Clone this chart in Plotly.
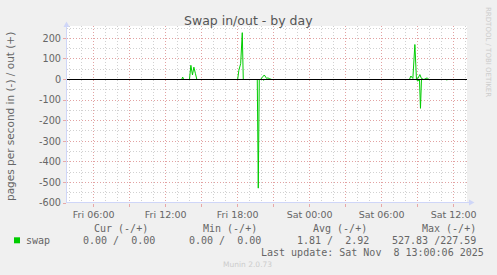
import plotly.graph_objects as go

# ---------------- data ----------------
out_time = [
    "2025-11-07 03:46", "2025-11-07 13:20", "2025-11-07 13:25", "2025-11-07 13:30",
    "2025-11-07 13:59", "2025-11-07 14:06", "2025-11-07 14:14", "2025-11-07 14:21",
    "2025-11-07 14:29", "2025-11-07 14:36",
    "2025-11-07 18:00", "2025-11-07 18:06", "2025-11-07 18:15", "2025-11-07 18:23",
    "2025-11-07 18:28",
    "2025-11-07 19:54", "2025-11-07 20:01", "2025-11-07 20:13", "2025-11-07 20:25",
    "2025-11-07 20:31", "2025-11-07 20:41", "2025-11-07 20:51",
    "2025-11-08 08:19", "2025-11-08 08:26", "2025-11-08 08:36", "2025-11-08 08:46",
    "2025-11-08 08:54", "2025-11-08 09:01", "2025-11-08 09:11", "2025-11-08 09:19",
    "2025-11-08 09:31", "2025-11-08 09:48", "2025-11-08 09:56", "2025-11-08 13:06",
]
out_vals = [
    0, 0, 12, 0,
    0, 69, 22, 60,
    28, 0,
    0, 45, 77, 227.59,
    0,
    0, 8, 22, 5,
    8, 3, 0,
    0, 17, 5, 170,
    0, 5, 24, 5,
    0, 8, 0, 0,
]

in_time = [
    "2025-11-07 03:46",
    "2025-11-07 08:34", "2025-11-07 08:39", "2025-11-07 08:44",
    "2025-11-07 09:06", "2025-11-07 09:11", "2025-11-07 09:16",
    "2025-11-07 09:46", "2025-11-07 09:51", "2025-11-07 09:56",
    "2025-11-07 15:21", "2025-11-07 15:26", "2025-11-07 15:31",
    "2025-11-07 19:38", "2025-11-07 19:43", "2025-11-07 19:48",
    "2025-11-07 20:05", "2025-11-07 20:10", "2025-11-07 20:15",
    "2025-11-07 20:30", "2025-11-07 20:35", "2025-11-07 20:40",
    "2025-11-07 21:11", "2025-11-07 21:16", "2025-11-07 21:21",
    "2025-11-07 21:36", "2025-11-07 21:41", "2025-11-07 21:46",
    "2025-11-08 07:36", "2025-11-08 07:41", "2025-11-08 07:46",
    "2025-11-08 08:55", "2025-11-08 09:00", "2025-11-08 09:05",
    "2025-11-08 09:09", "2025-11-08 09:14", "2025-11-08 09:19",
    "2025-11-08 11:21", "2025-11-08 11:26", "2025-11-08 11:31",
    "2025-11-08 11:49", "2025-11-08 11:54", "2025-11-08 11:59",
    "2025-11-08 13:06",
]
in_vals = [
    0,
    0, 3, 0,
    0, 3, 0,
    0, 2, 0,
    0, 2, 0,
    0, 527.83, 0,
    0, 3, 0,
    0, 2, 0,
    0, 2, 0,
    0, 2, 0,
    0, 2, 0,
    0, 8, 0,
    0, 140, 0,
    0, 2, 0,
    0, 2, 0,
    0,
]

x_tickvals = [
    "2025-11-07 06:00", "2025-11-07 09:00", "2025-11-07 12:00", "2025-11-07 15:00",
    "2025-11-07 18:00", "2025-11-07 21:00", "2025-11-08 00:00", "2025-11-08 03:00",
    "2025-11-08 06:00", "2025-11-08 09:00", "2025-11-08 12:00",
]
x_ticktext = ["Fri 06:00", "", "Fri 12:00", "", "Fri 18:00", "",
              "Sat 00:00", "", "Sat 06:00", "", "Sat 12:00"]
y_tickvals = [-600, -500, -400, -300, -200, -100, 0, 100, 200]
y_ticktext = ["-600", "-500", "-400", "-300", "-200", "-100", "0", "100", "200"]

series_name = "swap"
legend_headers = ["Cur (-/+)", "Min (-/+)", "Avg (-/+)", "Max (-/+)"]
legend_values = ["0.00 /  0.00", "0.00 /  0.00", "1.81 /  2.92", "527.83 /227.59"]
last_update = "Last update: Sat Nov  8 13:00:06 2025"
title_text = "Swap in/out - by day"
ytitle_text = "pages per second in (-) / out (+)"

# ---------------- layout helpers ----------------
W, H = 497, 275
L, R, T, B = 67, 467, 26, 203
GREEN = "#00CC00"
FONT_C = "#666666"
AXIS_C = "#CFD6F8"


def px(x):
    return (x - L) / (R - L)


def py(y):
    return (B - y) / (B - T)


def nb(s):
    return s.replace(" ", "\u00a0")


fig = go.Figure()
fig.add_trace(go.Scatter(x=out_time, y=out_vals, mode="lines",
                         line=dict(color=GREEN, width=1), hoverinfo="skip"))
fig.add_trace(go.Scatter(x=in_time, y=[-v for v in in_vals], mode="lines",
                         line=dict(color=GREEN, width=1), hoverinfo="skip"))

grid_major = "rgba(230,150,150,0.8)"
grid_minor = "rgba(190,190,190,0.7)"

fig.update_layout(
    width=W, height=H,
    margin=dict(l=L, r=W - R, t=T, b=H - B, pad=0),
    paper_bgcolor="#F0F0F0", plot_bgcolor="#FFFFFF",
    showlegend=False,
    xaxis=dict(
        type="date",
        range=["2025-11-07 03:46:40", "2025-11-08 13:06:40"],
        tickmode="array", tickvals=x_tickvals, ticktext=x_ticktext,
        showgrid=True, gridcolor=grid_major, gridwidth=1, griddash="1px,2px",
        minor=dict(tickmode="linear", tick0="2025-11-07 04:00", dtick=3600000,
                   showgrid=True, gridcolor=grid_minor, gridwidth=1, griddash="1px,2px"),
        ticks="outside", ticklen=3, tickcolor=grid_major,
        tickfont=dict(family="DejaVu Sans", size=9.5, color=FONT_C),
        zeroline=False, showline=False, fixedrange=True,
    ),
    yaxis=dict(
        range=[-600, 260],
        tickmode="array", tickvals=y_tickvals, ticktext=y_ticktext,
        showgrid=True, gridcolor=grid_major, gridwidth=1, griddash="1px,2px",
        minor=dict(tickmode="linear", tick0=0, dtick=50,
                   showgrid=True, gridcolor=grid_minor, gridwidth=1, griddash="1px,2px"),
        ticks="outside", ticklen=3, tickcolor=grid_major,
        tickfont=dict(family="DejaVu Sans", size=9.7, color=FONT_C),
        zeroline=False, showline=False, fixedrange=True,
    ),
)

shapes = []
# zero line (black) on top
shapes.append(dict(type="line", xref="paper", yref="y", x0=0, x1=1, y0=0, y1=0,
                   line=dict(color="#000000", width=1), layer="above"))
# axis lines + arrows
shapes.append(dict(type="line", xref="paper", yref="paper",
                   x0=px(66.5), x1=px(66.5), y0=py(B), y1=py(24),
                   line=dict(color=AXIS_C, width=1), layer="above"))
shapes.append(dict(type="line", xref="paper", yref="paper",
                   x0=px(L), x1=px(471), y0=py(B - 0.5), y1=py(B - 0.5),
                   line=dict(color=AXIS_C, width=1), layer="above"))
shapes.append(dict(type="path", xref="paper", yref="paper",
                   path=f"M {px(66.5)} {py(21.5)} L {px(63.5)} {py(27)} L {px(69.5)} {py(27)} Z",
                   fillcolor=AXIS_C, line=dict(width=0), layer="above"))
shapes.append(dict(type="path", xref="paper", yref="paper",
                   path=f"M {px(474.5)} {py(B - 0.5)} L {px(469)} {py(B - 3.5)} L {px(469)} {py(B + 2.5)} Z",
                   fillcolor=AXIS_C, line=dict(width=0), layer="above"))
# legend swatch
shapes.append(dict(type="rect", xref="paper", yref="paper",
                   x0=px(14), x1=px(20), y0=py(243.3), y1=py(237.3),
                   fillcolor=GREEN, line=dict(width=0)))
fig.update_layout(shapes=shapes)

ann = []


def add_text(text, x, y, size, family, color=FONT_C, xanchor="left", angle=0):
    ann.append(dict(text=nb(text), x=px(x), y=py(y), xref="paper", yref="paper",
                    xanchor=xanchor, yanchor="middle", showarrow=False,
                    textangle=angle, borderpad=0, borderwidth=0,
                    font=dict(family=family, size=size, color=color)))


MONO = "DejaVu Sans Mono"
add_text(title_text, 248.7, 20, 12.5, "DejaVu Sans", color="#555555", xanchor="center")
add_text(ytitle_text, 10, 117, 10.5, "DejaVu Sans", xanchor="center", angle=-90)
add_text("RRDTOOL / TOBI OETIKER", 488, 52, 7, "DejaVu Sans", color="#CCCCCC",
         xanchor="center", angle=90)

header_x = [94.3, 204.0, 313.3, 422.7]
value_x = [83.3, 190.0, 297.3, 392.3]
for h, hx in zip(legend_headers, header_x):
    add_text(h, hx - 0.7, 228.2, 10, MONO)
add_text(series_name, 26.7 - 0.7, 240.3, 10, MONO)
for v, vx in zip(legend_values, value_x):
    add_text(v, vx - 0.7, 240.3, 10, MONO)
add_text(last_update, 261.7 - 0.7, 252, 10, MONO)
add_text("Munin 2.0.73", 247.8, 264, 7.5, "DejaVu Sans", color="#CCCCCC", xanchor="center")

fig.update_layout(annotations=ann)
fig.write_html("out.html")
